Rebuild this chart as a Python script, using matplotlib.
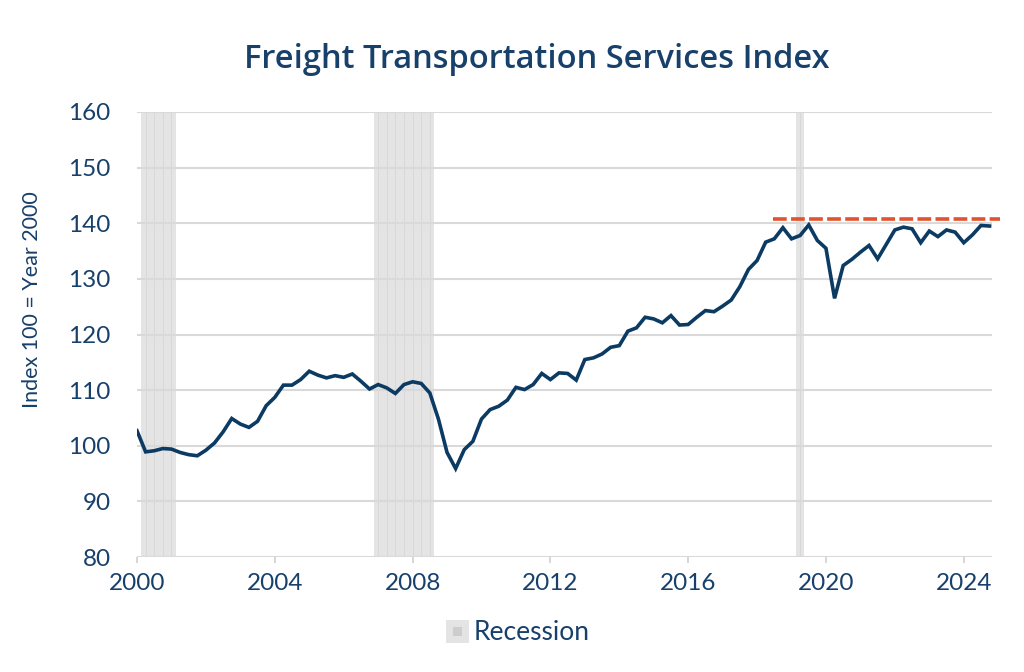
import matplotlib
matplotlib.use("Agg")
import matplotlib.pyplot as plt
import numpy as np
from matplotlib.patches import Rectangle
from matplotlib.legend_handler import HandlerBase

# ---------------- data ----------------
start_year = 2000.0
tsi_values = [
    102.7, 98.9, 99.1, 99.5, 99.4, 98.8, 98.4, 98.2, 99.2, 100.5,
    102.5, 104.9, 103.9, 103.3, 104.4, 107.2, 108.7, 110.9, 110.9, 111.9,
    113.4, 112.7, 112.2, 112.6, 112.3, 112.9, 111.6, 110.2, 111.0, 110.4,
    109.4, 111.0, 111.5, 111.2, 109.5, 104.8, 98.8, 95.9, 99.3, 100.8,
    104.8, 106.5, 107.1, 108.2, 110.5, 110.1, 111.0, 113.0, 111.9, 113.1,
    113.0, 111.8, 115.5, 115.8, 116.5, 117.7, 118.0, 120.6, 121.2, 123.1,
    122.8, 122.1, 123.4, 121.7, 121.8, 123.1, 124.3, 124.1, 125.1, 126.2,
    128.6, 131.7, 133.3, 136.6, 137.2, 139.2, 137.2, 137.8, 139.7, 136.9,
    135.5, 126.5, 132.4, 133.5, 134.8, 136.0, 133.6, 136.2, 138.8, 139.3,
    139.0, 136.5, 138.6, 137.6, 138.8, 138.4, 136.5, 137.9, 139.6, 139.5,
]
recession_quarters = [2000.25, 2000.5, 2000.75, 2001.0,
                      2007.0, 2007.25, 2007.5, 2007.75, 2008.0, 2008.25, 2008.5,
                      2019.25]
peak_level = 140.8
peak_start = 2018.45
peak_end = 2025.05
x_ticks = [2000, 2004, 2008, 2012, 2016, 2020, 2024]
y_ticks = [80, 90, 100, 110, 120, 130, 140, 150, 160]
title_text = "Freight Transportation Services Index"
ylabel_text = "Index 100 = Year 2000"
legend_text = "Recession"

# ---------------- style ----------------
NAVY = "#0b3a63"
TEXT = "#17406b"
GRID = "#d9d9d9"
SHADE = "#e4e4e4"
SHADE_LINE = "#d8d8d8"
RED = "#e0532f"
FONT = ["Lato", "DejaVu Sans"]

plt.rcParams["font.family"] = FONT

fig = plt.figure(figsize=(10.24, 6.72), dpi=100)
ax = fig.add_axes([137 / 1024, 1 - 557 / 672, (992 - 137) / 1024, (557 - 112) / 672])

years = start_year + np.arange(len(tsi_values)) / 4.0

# recession shading
ax.bar(recession_quarters, height=80, bottom=80, width=0.25, color=SHADE,
       linewidth=0, zorder=1)
ax.vlines(recession_quarters, 80, 160, color=SHADE_LINE, linewidth=0.7, zorder=1.5)

# grid
for y in y_ticks:
    ax.axhline(y, color=GRID, linewidth=1.5, zorder=2)

# series
ax.plot(years, tsi_values, color=NAVY, linewidth=2.6, zorder=4,
        solid_joinstyle="miter")

# peak dashed line
ax.plot([peak_start, peak_end], [peak_level, peak_level], color=RED,
        linewidth=2.6, dashes=(3.8, 1.2), zorder=5, clip_on=False)

ax.set_xlim(2000, 2024.82)
ax.set_ylim(80, 160)
ax.set_xticks(x_ticks)
ax.set_yticks(y_ticks)
ax.set_xticklabels([str(t) for t in x_ticks])
for s in ax.spines.values():
    s.set_visible(False)
ax.tick_params(axis="x", length=4.5, width=1.2, color="#cfcfcf", pad=7,
               labelsize=17.5, labelcolor=TEXT)
ax.tick_params(axis="y", length=0, pad=19, labelsize=17.5, labelcolor=TEXT)

ax.set_ylabel(ylabel_text, fontsize=15.5, color=TEXT)
ax.yaxis.set_label_coords(-0.111, 0.578)

fig.text(537 / 1024, 1 - 60 / 672, title_text, ha="center", va="center",
         fontsize=23.5, fontweight="semibold", color=TEXT,
         family=["Open Sans", "Lato", "DejaVu Sans"])

# legend
class ShadeHandler(HandlerBase):
    def create_artists(self, legend, orig_handle, xdescent, ydescent, width,
                       height, fontsize, trans):
        s = height * 1.25
        cx = xdescent + width / 2
        cy = ydescent + height / 2
        outer = Rectangle((cx - s / 2, cy - s / 2), s, s, facecolor="#e4e4e4",
                          edgecolor="none", transform=trans)
        inner = Rectangle((cx - s / 5, cy - s / 5), s / 2.5, s / 2.5,
                          facecolor="#cdcdcd", edgecolor="none", transform=trans)
        return [outer, inner]

proxy = Rectangle((0, 0), 1, 1)
fig.legend([proxy], [legend_text], handler_map={Rectangle: ShadeHandler()},
           loc="center", bbox_to_anchor=(518 / 1024, 1 - 633 / 672),
           frameon=False, fontsize=19, labelcolor=TEXT, handlelength=0.8,
           handletextpad=0.2)

fig.savefig("out.png", dpi=100)
